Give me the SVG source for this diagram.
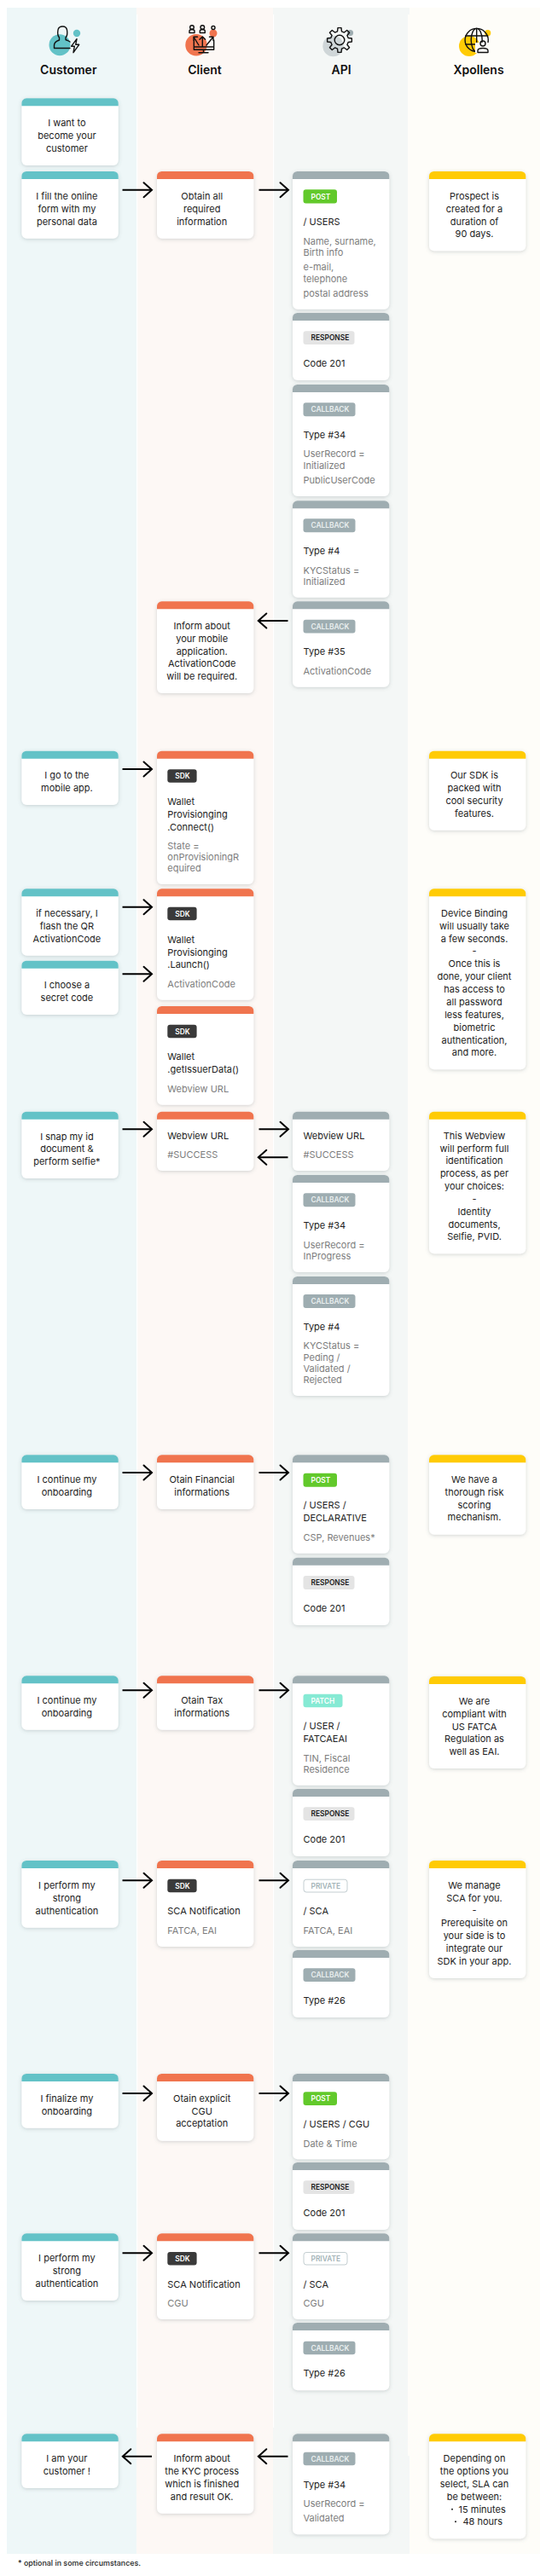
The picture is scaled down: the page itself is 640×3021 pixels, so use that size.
<svg xmlns="http://www.w3.org/2000/svg" xmlns:xlink="http://www.w3.org/1999/xlink" width="640" height="3021" viewBox="0 0 640 3021">
<style>
text{font-family:"Inter","Liberation Sans",sans-serif;dominant-baseline:central}
.card{fill:#fff;rx:6px;filter:url(#sh)}
.hc{fill:#63c2c7}.hk{fill:#f0744e}.ha{fill:#9fadb1}.hx{fill:#ffcb05}
.t{font-size:11px;fill:#222}
.m{text-anchor:middle}
.g{font-size:11px;fill:#7d7d7d}
.col{font-size:14px;font-weight:600;fill:#111;text-anchor:middle}
.b{font-size:8.4px;font-weight:600}
.post{fill:#62c92b}.resp{fill:#e4e4e4}.call{fill:#9eadb1}.sdk{fill:#3a3a3a}.patch{fill:#86ead4}.priv{fill:#fff;stroke:#c3ced1;stroke-width:1}
.bw{fill:#fff}.bd{fill:#1a1a1a}.bc{fill:#e9efef}.bp{fill:#a3b3b7}
.ic{fill:none;stroke:#111;stroke-width:1.4;stroke-linejoin:round;stroke-linecap:round}
.ar{fill:none;stroke:#000;stroke-width:2;marker-end:url(#arr)}
.foot{font-size:8.9px;font-weight:500;fill:#222}
</style>
<defs>
<filter id="sh" x="-20%" y="-20%" width="140%" height="140%"><feDropShadow dx="0" dy="1" stdDeviation="2.2" flood-color="#5a6a6e" flood-opacity=".28"/></filter>
<path id="hd" d="M0 9V5.5A5.5 5.5 0 0 1 5.500 0H107.800A5.500 5.500 0 0 1 113.300 5.500V9Z"/>
<marker id="arr" markerUnits="userSpaceOnUse" markerWidth="14" markerHeight="22" refX="11" refY="11" orient="auto"><path d="M1.500 2.500L11 11L1.500 19.500" fill="none" stroke="#000" stroke-width="2" stroke-linecap="round"/></marker>
</defs>
<g id="lanes">
<rect x="8" y="9" width="152" height="2986" fill="#eef7f8"/>
<rect x="160" y="9" width="160" height="2986" fill="#fdf8f5"/>
<rect x="320" y="9" width="160" height="2986" fill="#f4f7f6"/>
<rect x="480" y="9" width="153" height="2986" fill="#fefdf9"/>
<rect x="478" y="17" width="2" height="2863" fill="#fefdf9"/>
<rect x="160" y="17" width="1.200" height="2830" fill="#fff"/>
<rect x="320" y="17" width="1.200" height="2830" fill="#fff"/>
</g>
<g id="head-customer">
<circle cx="70" cy="52.700" r="12.500" fill="#63c2c7"/><circle cx="90" cy="39" r="4.200" fill="#63c2c7"/>
<path class="ic" d="M82 56.500H63.500V53C63.500 49.800 66 48.300 69.500 47V44C67.500 42 67.500 38 68 35C68.500 32.300 71 31 73.500 31C76 31 78 32.500 78.500 35C79 38 79 42 77 44V46.500C79 47.500 80.500 48 82 49"/>
<path class="ic" d="M90 45.700L83.500 54.300H87.300L86 61.700L92.700 52.300H88.700Z"/>
<text class="col" x="80.300" y="81.500">Customer</text></g>
<g id="head-client">
<circle cx="230" cy="52.700" r="12.700" fill="#f0744e"/><circle cx="250" cy="39" r="4.500" fill="#f0744e"/>
<path class="ic" d="M222 38.500V36.500Q222 34.700 225 34.500Q228 34.700 228 36.500V38.500ZM234.300 38.500V36.500Q234.300 34.700 237.300 34.500Q240.300 34.700 240.300 36.500V38.500Z"/>
<circle class="ic" cx="225" cy="32" r="2.300"/><circle class="ic" cx="237.300" cy="32" r="2.300"/><circle class="ic" cx="250" cy="32.500" r="2"/>
<path class="ic" d="M237.300 54V43M234 46.300L237.300 43L240.600 46.300M233 53L227 43.300M227 47.500V43.300H231.500M242 53L250 43.300M245.500 43.300H250V47.500M227.300 47V58.300H250.700V47M227.300 55H250.700M238.500 58.300V61.700M233 61.700H244"/>
<text class="col" x="240" y="81.500">Client</text></g>
<g id="head-api">
<circle cx="390.500" cy="54" r="12.200" fill="#cfd6d8"/><circle cx="410.500" cy="38.500" r="3.600" fill="#9eadb1"/>
<path class="ic" transform="translate(398 47)" d="M-2.450-10.200L-2.020-14.360L2.020-14.360L2.450-10.200L5.480-8.940L8.730-11.580L11.580-8.730L8.940-5.480L10.200-2.450L14.360-2.020L14.360 2.020L10.200 2.450L8.940 5.480L11.580 8.730L8.730 11.580L5.480 8.940L2.450 10.200L2.020 14.360L-2.020 14.360L-2.450 10.200L-5.480 8.940L-8.730 11.580L-11.580 8.730L-8.940 5.480L-10.200 2.450L-14.360 2.020L-14.360-2.020L-10.200-2.450L-8.940-5.480L-11.580-8.730L-8.730-11.580L-5.480-8.940Z"/>
<circle class="ic" cx="398" cy="47" r="5.800"/>
<text class="col" x="400" y="81.500">API</text></g>
<g id="head-xpollens">
<circle cx="550" cy="54" r="12" fill="#ffcb05"/><circle cx="571.700" cy="38.700" r="3.600" fill="#ffcb05"/>
<circle class="ic" cx="558.700" cy="47" r="13.600"/>
<ellipse class="ic" cx="558.700" cy="47" rx="6.500" ry="13.600"/>
<path class="ic" d="M558.700 33.400V60.600M545.800 42H571.600M545.800 52H571.600"/>
<path d="M557 62V50H575V62Z" fill="#fefdf9"/>
<circle class="ic" cx="566" cy="51" r="3"/>
<path class="ic" d="M560 61.500V59.500Q560 56.500 566 56.500Q572 56.500 572 59.500V61.500Z"/>
<text class="col" x="561" y="81.500">Xpollens</text></g>

<g id="connectors">
<path class="ar" d="M143.500 222.700H178"/><path class="ar" d="M303.500 222.700H338"/>
<path class="ar" d="M337.500 728H302.800"/>
<path class="ar" d="M143.500 902H178"/>
<path class="ar" d="M143.500 1063.700H178"/>
<path class="ar" d="M143.500 1142.300H178"/>
<path class="ar" d="M143.500 1324.300H178"/><path class="ar" d="M303.500 1324.300H338"/>
<path class="ar" d="M337.500 1357.300H302.800"/>
<path class="ar" d="M143.500 1727H178"/><path class="ar" d="M303.500 1727H338"/>
<path class="ar" d="M143.500 1982.300H178"/><path class="ar" d="M303.500 1982.300H338"/>
<path class="ar" d="M143.500 2205.300H178"/><path class="ar" d="M303.500 2205.300H338"/>
<path class="ar" d="M143.500 2455H178"/><path class="ar" d="M303.500 2455H338"/>
<path class="ar" d="M143.500 2642.300H178"/><path class="ar" d="M303.500 2642.300H338"/>
<path class="ar" d="M337.500 2880.700H302.800"/><path class="ar" d="M178 2880.700H143.800"/>
</g>

<g id="c1"><rect class="card" x="25.400" y="115.300" width="113.300" height="78.700"/><use href="#hd" x="25.400" y="115.300" class="hc"/>
<text class="t m"><tspan x="78.400" y="144">I want to</tspan><tspan x="78.400" y="159">become your</tspan><tspan x="78.400" y="174">customer</tspan></text></g>
<g id="c2"><rect class="card" x="25.400" y="201" width="113.300" height="78.700"/><use href="#hd" x="25.400" y="201" class="hc"/>
<text class="t m"><tspan x="78.400" y="230">I fill the online</tspan><tspan x="78.400" y="244.700">form with my</tspan><tspan x="78.400" y="259.700">personal data</tspan></text></g>
<g id="k1"><rect class="card" x="184" y="201" width="113.300" height="78.700"/><use href="#hd" x="184" y="201" class="hk"/>
<text class="t m"><tspan x="236.700" y="230">Obtain all</tspan><tspan x="236.700" y="244.700">required</tspan><tspan x="236.700" y="259.700">information</tspan></text></g>
<g id="a1"><rect class="card" x="343" y="201" width="113.300" height="161.700"/><use href="#hd" x="343" y="201" class="ha"/>
<rect class="post" x="355.500" y="222.300" width="39.500" height="16.200" rx="3"/><text class="b bw" x="364.500" y="230.500">POST</text>
<text class="t" x="355.500" y="260.300">/ USERS</text>
<text class="g"><tspan x="355.500" y="282.700">Name, surname,</tspan><tspan x="355.500" y="296">Birth info</tspan><tspan x="355.500" y="313.300">e-mail,</tspan><tspan x="355.500" y="326.700">telephone</tspan><tspan x="355.500" y="344">postal address</tspan></text></g>
<g id="a2"><rect class="card" x="343" y="367" width="113.300" height="79"/><use href="#hd" x="343" y="367" class="ha"/>
<rect class="resp" x="355.500" y="388.300" width="60" height="15.800" rx="3"/><text class="b bd" x="364.500" y="396.300">RESPONSE</text>
<text class="t" x="355.500" y="426">Code 201</text></g>
<g id="a3"><rect class="card" x="343" y="451" width="113.300" height="131"/><use href="#hd" x="343" y="451" class="ha"/>
<rect class="call" x="355.500" y="472.300" width="61" height="16" rx="3"/><text class="b bc" x="364.500" y="480.300">CALLBACK</text>
<text class="t" x="355.500" y="510.300">Type #34</text>
<text class="g"><tspan x="355.500" y="532.300">UserRecord =</tspan><tspan x="355.500" y="545.700">Initialized</tspan><tspan x="355.500" y="563">PublicUserCode</tspan></text></g>
<g id="a4"><rect class="card" x="343" y="587.300" width="113.300" height="113.400"/><use href="#hd" x="343" y="587.300" class="ha"/>
<rect class="call" x="355.500" y="608.300" width="61" height="16" rx="3"/><text class="b bc" x="364.500" y="616.300">CALLBACK</text>
<text class="t" x="355.500" y="646.300">Type #4</text>
<text class="g"><tspan x="355.500" y="668.700">KYCStatus =</tspan><tspan x="355.500" y="682">Initialized</tspan></text></g>
<g id="a5"><rect class="card" x="343" y="705.300" width="113.300" height="100.400"/><use href="#hd" x="343" y="705.300" class="ha"/>
<rect class="call" x="355.500" y="726.700" width="61" height="15.800" rx="3"/><text class="b bc" x="364.500" y="734.600">CALLBACK</text>
<text class="t" x="355.500" y="764.300">Type #35</text>
<text class="g" x="355.500" y="786.700">ActivationCode</text></g>
<g id="k2"><rect class="card" x="184" y="705.300" width="113.300" height="107.700"/><use href="#hd" x="184" y="705.300" class="hk"/>
<text class="t m"><tspan x="236.700" y="734">Inform about</tspan><tspan x="236.700" y="748.700">your mobile</tspan><tspan x="236.700" y="763.700">application.</tspan><tspan x="236.700" y="778.300">ActivationCode</tspan><tspan x="236.700" y="793.300">will be required.</tspan></text></g>
<g id="x1"><rect class="card" x="503" y="201" width="113.300" height="93.300"/><use href="#hd" x="503" y="201" class="hx"/>
<text class="t m"><tspan x="556" y="230">Prospect is</tspan><tspan x="556" y="244.700">created for a</tspan><tspan x="556" y="259.700">duration of</tspan><tspan x="556" y="274.300">90 days.</tspan></text></g>

<g id="c3"><rect class="card" x="25.400" y="880.700" width="113.300" height="63.300"/><use href="#hd" x="25.400" y="880.700" class="hc"/>
<text class="t m"><tspan x="78.400" y="909.300">I go to the</tspan><tspan x="78.400" y="924.300">mobile app.</tspan></text></g>
<g id="k3"><rect class="card" x="184" y="880.700" width="113.300" height="156.300"/><use href="#hd" x="184" y="880.700" class="hk"/>
<rect class="sdk" x="196.300" y="902.300" width="34.300" height="15.400" rx="3"/><text class="b bw" x="205.300" y="910">SDK</text>
<text class="t"><tspan x="196.300" y="940">Wallet</tspan><tspan x="196.300" y="955">Provisionging</tspan><tspan x="196.300" y="969.700">.Connect()</tspan></text>
<text class="g"><tspan x="196.300" y="992">State =</tspan><tspan x="196.300" y="1005.300">onProvisioningR</tspan><tspan x="196.300" y="1018.300">equired</tspan></text></g>
<g id="x2"><rect class="card" x="503" y="880.700" width="113.300" height="93"/><use href="#hd" x="503" y="880.700" class="hx"/>
<text class="t m"><tspan x="556" y="909.300">Our SDK is</tspan><tspan x="556" y="924.300">packed with</tspan><tspan x="556" y="939">cool security</tspan><tspan x="556" y="954">features.</tspan></text></g>

<g id="c4"><rect class="card" x="25.400" y="1042.300" width="113.300" height="78.400"/><use href="#hd" x="25.400" y="1042.300" class="hc"/>
<text class="t m"><tspan x="78.400" y="1071">if necessary, I</tspan><tspan x="78.400" y="1086">flash the QR</tspan><tspan x="78.400" y="1100.700">ActivationCode</tspan></text></g>
<g id="c5"><rect class="card" x="25.400" y="1126.700" width="113.300" height="63.300"/><use href="#hd" x="25.400" y="1126.700" class="hc"/>
<text class="t m"><tspan x="78.400" y="1155.300">I choose a</tspan><tspan x="78.400" y="1170.300">secret code</tspan></text></g>
<g id="k4"><rect class="card" x="184" y="1042.300" width="113.300" height="130.400"/><use href="#hd" x="184" y="1042.300" class="hk"/>
<rect class="sdk" x="196.300" y="1063.700" width="34.300" height="15.600" rx="3"/><text class="b bw" x="205.300" y="1071.500">SDK</text>
<text class="t"><tspan x="196.300" y="1101.700">Wallet</tspan><tspan x="196.300" y="1116.700">Provisionging</tspan><tspan x="196.300" y="1131.300">.Launch()</tspan></text>
<text class="g" x="196.300" y="1153.700">ActivationCode</text></g>
<g id="k5"><rect class="card" x="184" y="1180" width="113.300" height="115.700"/><use href="#hd" x="184" y="1180" class="hk"/>
<rect class="sdk" x="196.300" y="1201.700" width="34.300" height="15.600" rx="3"/><text class="b bw" x="205.300" y="1209.500">SDK</text>
<text class="t"><tspan x="196.300" y="1239.300">Wallet</tspan><tspan x="196.300" y="1254.300">.getIssuerData()</tspan></text>
<text class="g" x="196.300" y="1276.700">Webview URL</text></g>
<g id="x3"><rect class="card" x="503" y="1042.300" width="113.300" height="212"/><use href="#hd" x="503" y="1042.300" class="hx"/>
<text class="t m"><tspan x="556" y="1071">Device Binding</tspan><tspan x="556" y="1086">will usually take</tspan><tspan x="556" y="1100.700">a few seconds.</tspan><tspan x="556" y="1115.300">-</tspan><tspan x="556" y="1130.300">Once this is</tspan><tspan x="556" y="1145.300">done, your client</tspan><tspan x="556" y="1160.300">has access to</tspan><tspan x="556" y="1175">all password</tspan><tspan x="556" y="1190">less features,</tspan><tspan x="556" y="1204.700">biometric</tspan><tspan x="556" y="1219.700">authentication,</tspan><tspan x="556" y="1234.300">and more.</tspan></text></g>

<g id="c6"><rect class="card" x="25.400" y="1303.700" width="113.300" height="78.300"/><use href="#hd" x="25.400" y="1303.700" class="hc"/>
<text class="t m"><tspan x="78.400" y="1332.700">I snap my id</tspan><tspan x="78.400" y="1347.300">document &amp;</tspan><tspan x="78.400" y="1362.300">perform selfie*</tspan></text></g>
<g id="k6"><rect class="card" x="184" y="1303.700" width="113.300" height="69.300"/><use href="#hd" x="184" y="1303.700" class="hk"/>
<text class="t" x="196.300" y="1331.700">Webview URL</text><text class="g" x="196.300" y="1354">#SUCCESS</text></g>
<g id="a6"><rect class="card" x="343" y="1303.700" width="113.300" height="69.300"/><use href="#hd" x="343" y="1303.700" class="ha"/>
<text class="t" x="355.500" y="1331.700">Webview URL</text><text class="g" x="355.500" y="1354">#SUCCESS</text></g>
<g id="a7"><rect class="card" x="343" y="1378" width="113.300" height="114"/><use href="#hd" x="343" y="1378" class="ha"/>
<rect class="call" x="355.500" y="1399.300" width="61" height="16" rx="3"/><text class="b bc" x="364.500" y="1407.300">CALLBACK</text>
<text class="t" x="355.500" y="1437.300">Type #34</text>
<text class="g"><tspan x="355.500" y="1459.700">UserRecord =</tspan><tspan x="355.500" y="1473">InProgress</tspan></text></g>
<g id="a8"><rect class="card" x="343" y="1497" width="113.300" height="140"/><use href="#hd" x="343" y="1497" class="ha"/>
<rect class="call" x="355.500" y="1518" width="61" height="16" rx="3"/><text class="b bc" x="364.500" y="1526">CALLBACK</text>
<text class="t" x="355.500" y="1556">Type #4</text>
<text class="g"><tspan x="355.500" y="1578.300">KYCStatus =</tspan><tspan x="355.500" y="1591.700">Peding /</tspan><tspan x="355.500" y="1604.700">Validated /</tspan><tspan x="355.500" y="1618">Rejected</tspan></text></g>
<g id="x4"><rect class="card" x="503" y="1303.700" width="113.300" height="166.600"/><use href="#hd" x="503" y="1303.700" class="hx"/>
<text class="t m"><tspan x="556" y="1331.700">This Webview</tspan><tspan x="556" y="1346.700">will perform full</tspan><tspan x="556" y="1361.300">identification</tspan><tspan x="556" y="1376.300">process, as per</tspan><tspan x="556" y="1391">your choices:</tspan><tspan x="556" y="1405.700">-</tspan><tspan x="556" y="1420.700">Identity</tspan><tspan x="556" y="1435.700">documents,</tspan><tspan x="556" y="1450.300">Selfie, PVID.</tspan></text></g>

<g id="c7"><rect class="card" x="25.400" y="1706.300" width="113.300" height="63.700"/><use href="#hd" x="25.400" y="1706.300" class="hc"/>
<text class="t m"><tspan x="78.400" y="1735">I continue my</tspan><tspan x="78.400" y="1750">onboarding</tspan></text></g>
<g id="k7"><rect class="card" x="184" y="1706.300" width="113.300" height="63.700"/><use href="#hd" x="184" y="1706.300" class="hk"/>
<text class="t m"><tspan x="236.700" y="1735">Otain Financial</tspan><tspan x="236.700" y="1750">informations</tspan></text></g>
<g id="a9"><rect class="card" x="343" y="1706.300" width="113.300" height="115.400"/><use href="#hd" x="343" y="1706.300" class="ha"/>
<rect class="post" x="355.500" y="1727.700" width="39.500" height="16" rx="3"/><text class="b bw" x="364.500" y="1735.700">POST</text>
<text class="t"><tspan x="355.500" y="1765.300">/ USERS /</tspan><tspan x="355.500" y="1780.300">DECLARATIVE</tspan></text>
<text class="g" x="355.500" y="1802.700">CSP, Revenues*</text></g>
<g id="a10"><rect class="card" x="343" y="1826.700" width="113.300" height="79.300"/><use href="#hd" x="343" y="1826.700" class="ha"/>
<rect class="resp" x="355.500" y="1848" width="60" height="16" rx="3"/><text class="b bd" x="364.500" y="1856">RESPONSE</text>
<text class="t" x="355.500" y="1886">Code 201</text></g>
<g id="x5"><rect class="card" x="503" y="1706.300" width="113.300" height="93.400"/><use href="#hd" x="503" y="1706.300" class="hx"/>
<text class="t m"><tspan x="556" y="1735">We have a</tspan><tspan x="556" y="1750">thorough risk</tspan><tspan x="556" y="1764.700">scoring</tspan><tspan x="556" y="1779.300">mechanism.</tspan></text></g>

<g id="c8"><rect class="card" x="25.400" y="1965.300" width="113.300" height="63.400"/><use href="#hd" x="25.400" y="1965.300" class="hc"/>
<text class="t m"><tspan x="78.400" y="1994">I continue my</tspan><tspan x="78.400" y="2009">onboarding</tspan></text></g>
<g id="k8"><rect class="card" x="184" y="1965.300" width="113.300" height="63.400"/><use href="#hd" x="184" y="1965.300" class="hk"/>
<text class="t m"><tspan x="236.700" y="1994">Otain Tax</tspan><tspan x="236.700" y="2009">informations</tspan></text></g>
<g id="a11"><rect class="card" x="343" y="1965.300" width="113.300" height="128.400"/><use href="#hd" x="343" y="1965.300" class="ha"/>
<rect class="patch" x="355.500" y="1986.700" width="46" height="15.600" rx="3"/><text class="b bw" x="364.500" y="1994.500">PATCH</text>
<text class="t"><tspan x="355.500" y="2024.300">/ USER /</tspan><tspan x="355.500" y="2039.300">FATCAEAI</tspan></text>
<text class="g"><tspan x="355.500" y="2061.700">TIN, Fiscal</tspan><tspan x="355.500" y="2075">Residence</tspan></text></g>
<g id="a12"><rect class="card" x="343" y="2098" width="113.300" height="79"/><use href="#hd" x="343" y="2098" class="ha"/>
<rect class="resp" x="355.500" y="2119.300" width="60" height="15.700" rx="3"/><text class="b bd" x="364.500" y="2127.200">RESPONSE</text>
<text class="t" x="355.500" y="2157.300">Code 201</text></g>
<g id="x6"><rect class="card" x="503" y="1966" width="113.300" height="108"/><use href="#hd" x="503" y="1966" class="hx"/>
<text class="t m"><tspan x="556" y="1994.700">We are</tspan><tspan x="556" y="2009.700">compliant with</tspan><tspan x="556" y="2024.700">US FATCA</tspan><tspan x="556" y="2039.300">Regulation as</tspan><tspan x="556" y="2054.300">well as EAI.</tspan></text></g>

<g id="c9"><rect class="card" x="25.400" y="2182" width="113.300" height="78.700"/><use href="#hd" x="25.400" y="2182" class="hc"/>
<text class="t m"><tspan x="78.400" y="2211">I perform my</tspan><tspan x="78.400" y="2226">strong</tspan><tspan x="78.400" y="2240.700">authentication</tspan></text></g>
<g id="k9"><rect class="card" x="184" y="2182" width="113.300" height="101"/><use href="#hd" x="184" y="2182" class="hk"/>
<rect class="sdk" x="196.300" y="2203.700" width="34.300" height="15.600" rx="3"/><text class="b bw" x="205.300" y="2211.500">SDK</text>
<text class="t" x="196.300" y="2241.300">SCA Notification</text><text class="g" x="196.300" y="2263.700">FATCA, EAI</text></g>
<g id="a13"><rect class="card" x="343" y="2182" width="113.300" height="101"/><use href="#hd" x="343" y="2182" class="ha"/>
<rect class="priv" x="356" y="2204.200" width="51" height="14.800" rx="3"/><text class="b bp" x="364.500" y="2211.500">PRIVATE</text>
<text class="t" x="355.500" y="2241.300">/ SCA</text><text class="g" x="355.500" y="2263.700">FATCA, EAI</text></g>
<g id="a14"><rect class="card" x="343" y="2287" width="113.300" height="79"/><use href="#hd" x="343" y="2287" class="ha"/>
<rect class="call" x="355.500" y="2308.300" width="61" height="15.700" rx="3"/><text class="b bc" x="364.500" y="2316.200">CALLBACK</text>
<text class="t" x="355.500" y="2346.300">Type #26</text></g>
<g id="x7"><rect class="card" x="503" y="2182" width="113.300" height="138"/><use href="#hd" x="503" y="2182" class="hx"/>
<text class="t m"><tspan x="556" y="2211">We manage</tspan><tspan x="556" y="2225.700">SCA for you.</tspan><tspan x="556" y="2240">-</tspan><tspan x="556" y="2255.300">Prerequisite on</tspan><tspan x="556" y="2270.300">your side is to</tspan><tspan x="556" y="2285.300">integrate our</tspan><tspan x="556" y="2300">SDK in your app.</tspan></text></g>

<g id="c10"><rect class="card" x="25.400" y="2432" width="113.300" height="63.700"/><use href="#hd" x="25.400" y="2432" class="hc"/>
<text class="t m"><tspan x="78.400" y="2460.700">I finalize my</tspan><tspan x="78.400" y="2475.700">onboarding</tspan></text></g>
<g id="k10"><rect class="card" x="184" y="2432" width="113.300" height="78.700"/><use href="#hd" x="184" y="2432" class="hk"/>
<text class="t m"><tspan x="236.700" y="2460.700">Otain explicit</tspan><tspan x="236.700" y="2475.700">CGU</tspan><tspan x="236.700" y="2490.300">acceptation</tspan></text></g>
<g id="a15"><rect class="card" x="343" y="2432" width="113.300" height="100.300"/><use href="#hd" x="343" y="2432" class="ha"/>
<rect class="post" x="355.500" y="2453.300" width="39.500" height="15.700" rx="3"/><text class="b bw" x="364.500" y="2461.200">POST</text>
<text class="t" x="355.500" y="2491.300">/ USERS / CGU</text><text class="g" x="355.500" y="2513.700">Date &amp; Time</text></g>
<g id="a16"><rect class="card" x="343" y="2536" width="113.300" height="79"/><use href="#hd" x="343" y="2536" class="ha"/>
<rect class="resp" x="355.500" y="2557.300" width="60" height="15.700" rx="3"/><text class="b bd" x="364.500" y="2565.200">RESPONSE</text>
<text class="t" x="355.500" y="2595.300">Code 201</text></g>

<g id="c11"><rect class="card" x="25.400" y="2619.300" width="113.300" height="78.700"/><use href="#hd" x="25.400" y="2619.300" class="hc"/>
<text class="t m"><tspan x="78.400" y="2648.300">I perform my</tspan><tspan x="78.400" y="2663.300">strong</tspan><tspan x="78.400" y="2677.700">authentication</tspan></text></g>
<g id="k11"><rect class="card" x="184" y="2619.300" width="113.300" height="100.700"/><use href="#hd" x="184" y="2619.300" class="hk"/>
<rect class="sdk" x="196.300" y="2641" width="34.300" height="15.400" rx="3"/><text class="b bw" x="205.300" y="2648.700">SDK</text>
<text class="t" x="196.300" y="2678.700">SCA Notification</text><text class="g" x="196.300" y="2701">CGU</text></g>
<g id="a17"><rect class="card" x="343" y="2619.300" width="113.300" height="100.700"/><use href="#hd" x="343" y="2619.300" class="ha"/>
<rect class="priv" x="356" y="2641.500" width="51" height="14.500" rx="3"/><text class="b bp" x="364.500" y="2648.700">PRIVATE</text>
<text class="t" x="355.500" y="2678.700">/ SCA</text><text class="g" x="355.500" y="2701">CGU</text></g>
<g id="a18"><rect class="card" x="343" y="2724" width="113.300" height="79.300"/><use href="#hd" x="343" y="2724" class="ha"/>
<rect class="call" x="355.500" y="2745.700" width="61" height="15.600" rx="3"/><text class="b bc" x="364.500" y="2753.500">CALLBACK</text>
<text class="t" x="355.500" y="2783.300">Type #26</text></g>

<g id="c12"><rect class="card" x="25.400" y="2854.300" width="113.300" height="63.700"/><use href="#hd" x="25.400" y="2854.300" class="hc"/>
<text class="t m"><tspan x="78.400" y="2883.300">I am your</tspan><tspan x="78.400" y="2898">customer !</tspan></text></g>
<g id="k12"><rect class="card" x="184" y="2854.300" width="113.300" height="93.400"/><use href="#hd" x="184" y="2854.300" class="hk"/>
<text class="t m"><tspan x="236.700" y="2883.300">Inform about</tspan><tspan x="236.700" y="2898">the KYC process</tspan><tspan x="236.700" y="2912.700">which is finished</tspan><tspan x="236.700" y="2927.700">and result OK.</tspan></text></g>
<g id="a19"><rect class="card" x="343" y="2854.300" width="113.300" height="118"/><use href="#hd" x="343" y="2854.300" class="ha"/>
<rect class="call" x="355.500" y="2875.700" width="61" height="15.600" rx="3"/><text class="b bc" x="364.500" y="2883.500">CALLBACK</text>
<text class="t" x="355.500" y="2913.700">Type #34</text>
<text class="g"><tspan x="355.500" y="2936">UserRecord =</tspan><tspan x="355.500" y="2953.300">Validated</tspan></text></g>
<g id="x8"><rect class="card" x="503" y="2854.300" width="113.300" height="123"/><use href="#hd" x="503" y="2854.300" class="hx"/>
<text class="t m"><tspan x="556" y="2883.300">Depending on</tspan><tspan x="556" y="2898">the options you</tspan><tspan x="556" y="2912.700">select, SLA can</tspan><tspan x="556" y="2927.700">be between:</tspan></text>
<circle cx="530" cy="2942.700" r="1" fill="#222"/><circle cx="534" cy="2957.300" r="1" fill="#222"/>
<text class="t"><tspan x="537.500" y="2942.700">15 minutes</tspan><tspan x="542.400" y="2957.300">48 hours</tspan></text></g>
<text id="footnote" class="foot" x="21" y="3005">* optional in some circumstances.</text>
</svg>
